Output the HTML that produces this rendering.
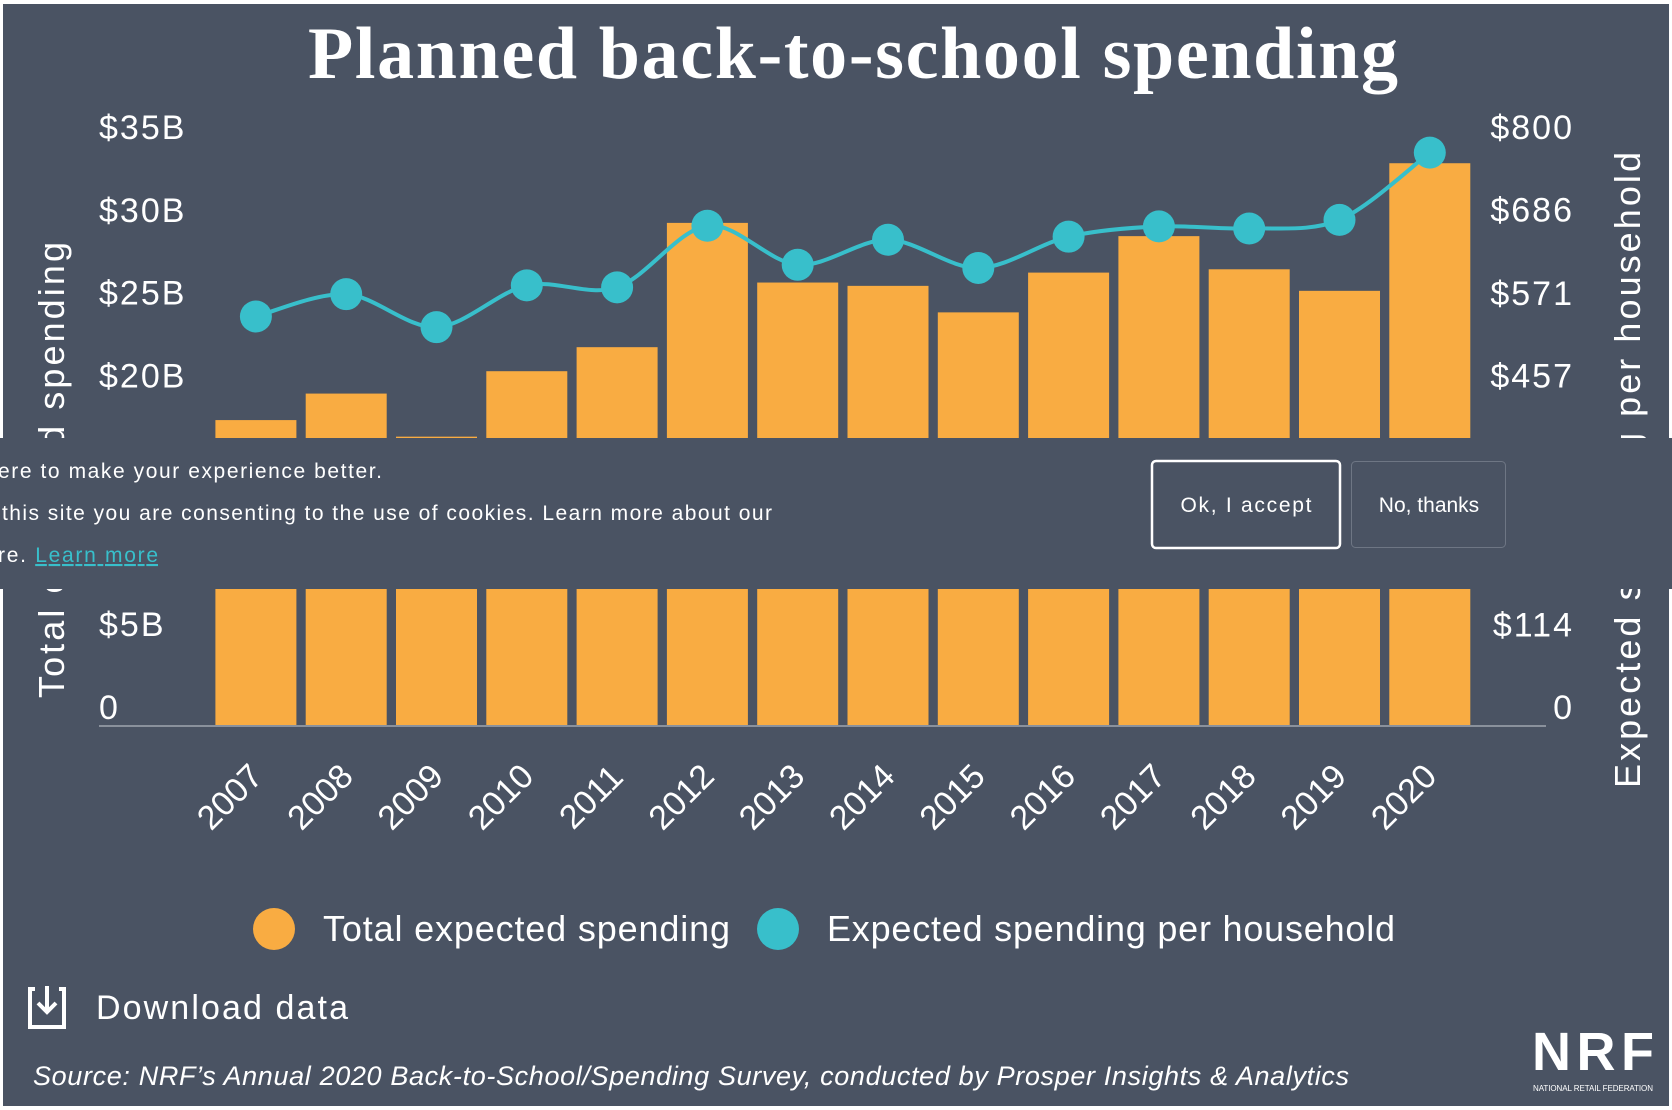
<!DOCTYPE html>
<html><head><meta charset="utf-8"><style>
html,body{margin:0;padding:0;background:#fff;}
svg{display:block;}
text{font-family:"Liberation Sans",sans-serif;fill:#fff;}
</style></head><body>
<svg id="chart" width="1672" height="1110" viewBox="0 0 1672 1110">
<rect x="3" y="4" width="1666" height="1102" fill="#4a5363"/>
<text x="853" y="78" text-anchor="middle" font-family="Liberation Serif" font-weight="bold" font-size="74" textLength="1090" style="font-family:'Liberation Serif',serif">Planned back-to-school spending</text>
<g id="axes"></g>
<g id="bars"></g>
<g id="line"></g>
<text transform="translate(64,470) rotate(-90)" text-anchor="middle" font-size="36" textLength="456">Total expected spending</text>
<text transform="translate(1640,470) rotate(-90)" text-anchor="middle" font-size="36" textLength="636">Expected spending per household</text>
<g>
<rect x="0" y="438" width="1672" height="151" fill="#4a5363"/>
<text x="-2" y="478" font-size="21" textLength="384">ere to make your experience better.</text>
<text x="2" y="520" font-size="21" textLength="770">this site you are consenting to the use of cookies. Learn more about our</text>
<text x="-2" y="562" font-size="21" textLength="160">re. <tspan fill="#38bfcb" text-decoration="underline">Learn more</tspan></text>
<rect x="1152" y="461" width="188" height="87" rx="4" fill="none" stroke="#fff" stroke-width="2.5"/>
<text x="1246" y="512" text-anchor="middle" font-size="21" textLength="131">Ok, I accept</text>
<rect x="1351.5" y="461.5" width="154" height="86" rx="4" fill="none" stroke="#6e7684" stroke-width="1"/>
<text x="1429" y="512" text-anchor="middle" font-size="21">No, thanks</text>
</g>
<g>
<circle cx="274" cy="929" r="21" fill="#f9ac42"/>
<text x="323" y="941" font-size="36" textLength="407">Total expected spending</text>
<circle cx="778" cy="929" r="21" fill="#38bfcb"/>
<text x="827" y="941" font-size="36" textLength="568">Expected spending per household</text>
</g>
<g>
<path d="M30 989 H35 M59 989 H64 M30 987 V1027 H64 V987" fill="none" stroke="#fff" stroke-width="4"/>
<path d="M47 986 V1012 M38 1003 L47 1012 L56 1003" fill="none" stroke="#fff" stroke-width="4"/>
<text x="96" y="1019" font-size="34" textLength="252">Download data</text>
</g>
<text x="33" y="1085" font-size="27" font-style="italic" textLength="1316">Source: NRF’s Annual 2020 Back-to-School/Spending Survey, conducted by Prosper Insights &amp; Analytics</text>
<g>
<text x="1532" y="1070" font-size="54" font-weight="bold" textLength="122" font-family="Liberation Sans">NRF</text>
<text x="1533" y="1091" font-size="8" textLength="120">NATIONAL RETAIL FEDERATION</text>
</g>
</svg>
<script>
const years = ["2007","2008","2009","2010","2011","2012","2013","2014","2015","2016","2017","2018","2019","2020"];
const totalSpending = [18.4, 20.0, 17.4, 21.35, 22.8, 30.3, 26.7, 26.5, 24.9, 27.3, 29.5, 27.5, 26.2, 33.9];
const perHousehold = [563.49, 594.24, 548.72, 606.40, 603.63, 688.62, 634.78, 669.28, 630.36, 673.57, 687.72, 684.79, 696.70, 789.49];
const leftTicks = [0, 5, 20, 25, 30, 35];
const leftTickLabels = ["0", "$5B", "$20B", "$25B", "$30B", "$35B"];
const rightTicks = [0, 114, 457, 571, 686, 800];
const rightTickLabels = ["0", "$114", "$457", "$571", "$686", "$800"];

const NS = "http://www.w3.org/2000/svg";
const baseY = 725, topY = 145;
const yL = v => baseY - (baseY - topY) * v / 35;
const yR = v => baseY - (baseY - topY) * v / 800;
const x0 = 215.4, pitch = 90.3, bw = 81;
const xBand = i => x0 + i * pitch;
const xMid = i => xBand(i) + bw / 2;
function mk(tag, attrs, parent){const e=document.createElementNS(NS,tag);for(const k in attrs)e.setAttribute(k,attrs[k]);parent.appendChild(e);return e;}

const axes = document.getElementById("axes");
const bars = document.getElementById("bars");
const line = document.getElementById("line");

leftTicks.forEach((t,i)=>{
  const el = mk("text",{x:99,y:yL(t)-6,"font-size":34,"letter-spacing":"2"},axes);
  el.textContent = leftTickLabels[i];
  
  
});
rightTicks.forEach((t,i)=>{
  const el = mk("text",{x:1574,y:yR(t)-6,"font-size":34,"text-anchor":"end","letter-spacing":"2"},axes);
  el.textContent = rightTickLabels[i];
  
  
});

totalSpending.forEach((v,i)=>{
  const r = mk("rect",{x:xBand(i),y:yL(v),width:bw,height:baseY-yL(v),fill:"#f9ac42"},bars);
  
  
  const t = mk("text",{transform:`translate(${xMid(i)-18},${baseY+80}) rotate(-45)`,"text-anchor":"middle","font-size":34},axes);
  t.textContent = years[i];
  
  
});
const ax = mk("line",{x1:99,x2:1546,y1:baseY+1,y2:baseY+1,stroke:"#8a919c","stroke-width":2},axes);



const pts = perHousehold.map((v,i)=>[xMid(i), yR(v)]);
let d = `M${pts[0][0]},${pts[0][1]}`;
for(let i=0;i<pts.length-1;i++){
  const p0=pts[Math.max(0,i-1)],p1=pts[i],p2=pts[i+1],p3=pts[Math.min(pts.length-1,i+2)];
  const t=0.16;
  const c1=[p1[0]+(p2[0]-p0[0])*t,p1[1]+(p2[1]-p0[1])*t];
  const c2=[p2[0]-(p3[0]-p1[0])*t,p2[1]-(p3[1]-p1[1])*t];
  d+=` C${c1[0]},${c1[1]} ${c2[0]},${c2[1]} ${p2[0]},${p2[1]}`;
}
const path = mk("path",{d:d,fill:"none",stroke:"#38bfcb","stroke-width":4},line);


pts.forEach((p,i)=>{
  const c = mk("circle",{cx:p[0],cy:p[1],r:16,fill:"#38bfcb"},line);
  
  
});
</script>
</body></html>
